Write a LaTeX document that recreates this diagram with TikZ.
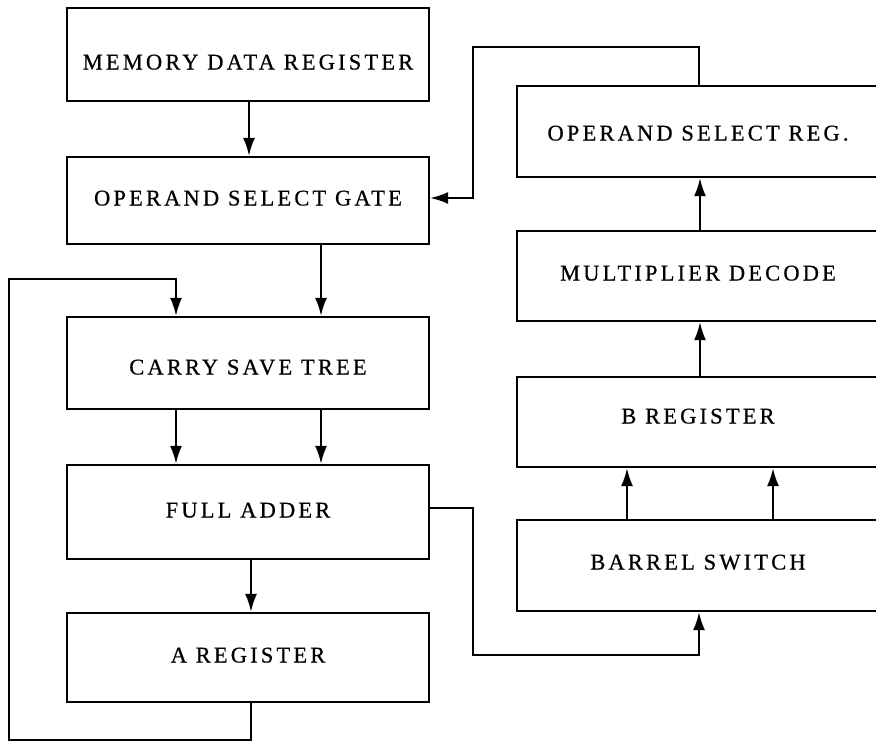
\documentclass[tikz,border=0pt]{standalone}
\usepackage{fontspec}
\setmainfont{Liberation Serif}[LetterSpace=14,FakeBold=0.6]
\usetikzlibrary{arrows.meta}
\newcommand{\boxtext}[2]{\raisebox{#1}[0pt][0pt]{#2}}
\begin{document}
\begin{tikzpicture}[x=1pt,y=-1pt,
  blk/.style={draw,line width=2.2pt,rectangle,minimum width=362pt,inner sep=0pt,
    font=\fontsize{22.5}{22.5}\selectfont},
  conn/.style={line width=2.2pt,line join=miter},
  arr/.style={conn,-{Latex[length=18pt,width=12pt]}}]
\useasboundingbox (0,0) rectangle (876,744);
\fill[white] (0,0) rectangle (876,744);
\begin{scope}
\clip (0,0) rectangle (876,744);
% left column
\node[blk,minimum height=93pt] (mdr) at (248,54.5) {\boxtext{-15pt}{MEMORY DATA REGISTER}};
\node[blk,minimum height=87pt] (osg) at (248,200.5) {\boxtext{-5pt}{OPERAND SELECT GATE}};
\node[blk,minimum height=92pt] (cst) at (248,363) {\boxtext{-11.5pt}{CARRY SAVE TREE}};
\node[blk,minimum height=94pt] (fa)  at (248,512) {\boxtext{-5.5pt}{FULL ADDER}};
\node[blk,minimum height=89pt] (ar)  at (248,657.5) {\boxtext{-5pt}{A REGISTER}};
% right column
\node[blk,minimum height=91pt] (osr) at (698,131.5) {\boxtext{-9pt}{OPERAND SELECT REG.}};
\node[blk,minimum height=90pt] (md)  at (698,276) {\boxtext{-4.5pt}{MULTIPLIER DECODE}};
\node[blk,minimum height=90pt] (br)  at (698,422) {\boxtext{-1.5pt}{B REGISTER}};
\node[blk,minimum height=91pt] (bs)  at (698,565.5) {\boxtext{-4pt}{BARREL SWITCH}};
% connectors
\draw[arr] (mdr.south -| 249,0) -- (osg.north -| 249,0);
\draw[arr] (osg.south -| 321,0) -- (cst.north -| 321,0);
\draw[arr] (cst.south -| 176,0) -- (fa.north -| 176,0);
\draw[arr] (cst.south -| 321,0) -- (fa.north -| 321,0);
\draw[arr] (fa.south -| 251,0) -- (ar.north -| 251,0);
\draw[arr] (ar.south -| 251,0) -- (251,740) -- (9,740) -- (9,279) -- (176,279) -- (cst.north -| 176,0);
\draw[arr] (osr.north -| 699,0) -- (699,47) -- (473,47) -- (473,198) -- (osg.east |- 0,198);
\draw[arr] (md.north -| 700,0) -- (osr.south -| 700,0);
\draw[arr] (br.north -| 700,0) -- (md.south -| 700,0);
\draw[arr] (bs.north -| 627,0) -- (br.south -| 627,0);
\draw[arr] (bs.north -| 773,0) -- (br.south -| 773,0);
\draw[arr] (fa.east |- 0,508) -- (473,508) -- (473,655) -- (699,655) -- (bs.south -| 699,0);
\end{scope}
\end{tikzpicture}
\end{document}
